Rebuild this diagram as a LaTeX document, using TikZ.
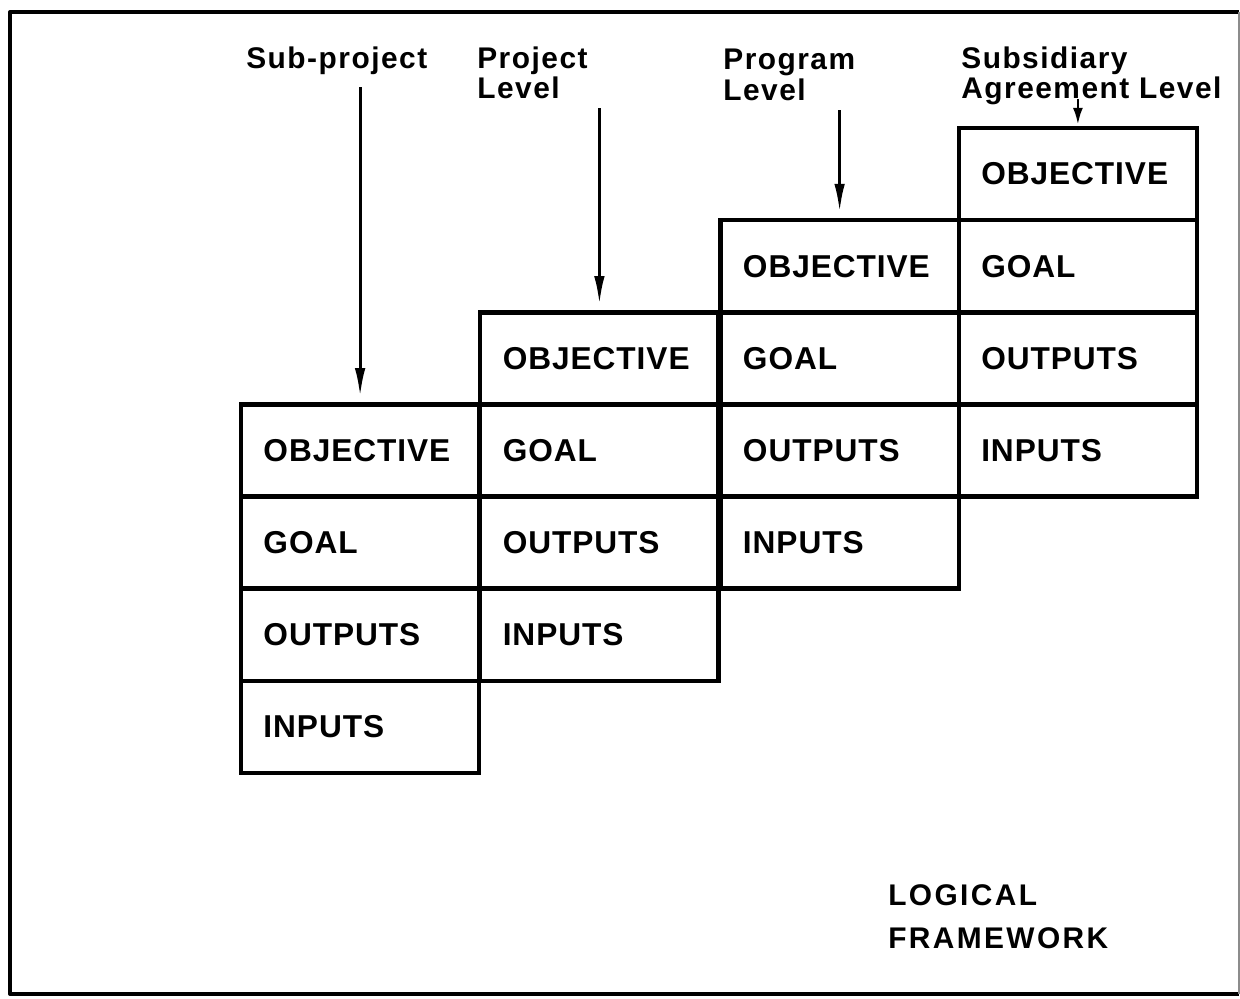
\documentclass[tikz,border=0pt]{standalone}
\usepackage{fontspec}
\newfontfamily\cellfont[LetterSpace=3]{Liberation Sans}
\newfontfamily\levelfont[LetterSpace=5]{Liberation Sans}
\newfontfamily\captionfont[LetterSpace=8]{Liberation Sans}
\usetikzlibrary{arrows.meta}
\tikzset{
    logframe/.style = {x=0.2mm, y=-0.2mm, >={Latex[length=5.6mm, width=2.1mm]}},
    frame/.style    = {line width=2.3pt, line join=round},
    faint edge/.style = {line width=0.6pt, black!45},
    cell/.style     = {draw, line width=2.5pt, minimum height=1.843cm,
                       text width=3.865cm, inner xsep=0.45cm, inner ysep=0pt,
                       align=left,
                       font={\cellfont\bfseries\fontsize{18}{20}\selectfont}},
    level/.style    = {inner sep=0pt, anchor=north west, align=left,
                       font={\levelfont\bfseries\fontsize{17}{17.5}\selectfont}},
    caption/.style  = {inner sep=0pt, anchor=north west, align=left,
                       font={\captionfont\bfseries\fontsize{17}{24.4}\selectfont}},
    pointer/.style  = {->, line width=1.6pt, shorten <=2.5mm, shorten >=1.2mm},
    stub/.style     = {-{Latex[length=3.4mm, width=2mm]}, line width=1.6pt,
                       shorten <=-1.2mm, shorten >=0.2mm}
}
\begin{document}
\begin{tikzpicture}[logframe]
\useasboundingbox (0,0) rectangle (1240,998);

% ================= Page frame =================
\draw[frame] (1239,12) -- (10,12) -- (10,994) -- (1239,994);
\draw[faint edge] (1239,12) -- (1239,994);

% ================= Level headings =================
\node[level] (lbl1) at (246,46) {Sub-project};
\node[level] (lbl2) at (477,46) {Project\\Level};
\node[level] (lbl3) at (723,49) {Program\\Level};
\node[level] (lbl4) at (961,46) {Subsidiary\\Agreement Level};

% ================= Sub-project column =================
\node[cell] (obj1)  at (360.1,450.5) {OBJECTIVE};
\node[cell] (goal1) at (360.1,542.6) {GOAL};
\node[cell] (out1)  at (360.1,634.8) {OUTPUTS};
\node[cell] (in1)   at (360.1,726.9) {INPUTS};

% ================= Project column =================
\node[cell] (obj2)  at (599.4,358.4) {OBJECTIVE};
\node[cell] (goal2) at (599.4,450.5) {GOAL};
\node[cell] (out2)  at (599.4,542.6) {OUTPUTS};
\node[cell] (in2)   at (599.4,634.8) {INPUTS};

% ================= Program column =================
\node[cell] (obj3)  at (839.6,266.2) {OBJECTIVE};
\node[cell] (goal3) at (839.6,358.4) {GOAL};
\node[cell] (out3)  at (839.6,450.5) {OUTPUTS};
\node[cell] (in3)   at (839.6,542.6) {INPUTS};

% ================= Subsidiary agreement column =================
\node[cell] (obj4)  at (1077.9,174.1) {OBJECTIVE};
\node[cell] (goal4) at (1077.9,266.2) {GOAL};
\node[cell] (out4)  at (1077.9,358.4) {OUTPUTS};
\node[cell] (in4)   at (1077.9,450.5) {INPUTS};

% ================= Pointers from headings =================
\draw[pointer] (lbl1.south -| obj1.north) -- (obj1.north);
\draw[pointer, shorten <=1.8mm] (lbl2.south -| obj2.north) -- (obj2.north);
\draw[pointer, shorten <=1.8mm] (lbl3.south -| obj3.north) -- (obj3.north);
\draw[stub] (lbl4.south -| obj4.north) -- (obj4.north);

% ================= Caption =================
\node[caption] (title) at (888,884) {LOGICAL\\FRAMEWORK};

\end{tikzpicture}
\end{document}
